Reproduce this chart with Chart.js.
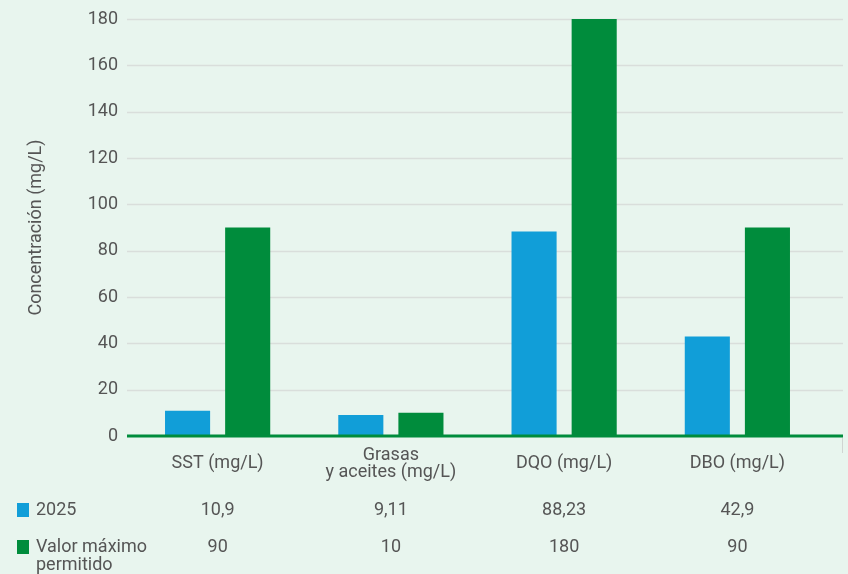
<!DOCTYPE html>
<html>
<head>
<meta charset="utf-8">
<script src="https://cdn.jsdelivr.net/npm/chart.js@4.4.1/dist/chart.umd.min.js"></script>
<style>
  html, body { margin: 0; padding: 0; background: #e8f5ee; }
  #wrap { width: 848px; height: 574px; }
</style>
</head>
<body>
<div id="wrap"><canvas id="chart" width="848" height="574"></canvas></div>
<script>
const categories = ['SST (mg/L)', ['Grasas', 'y aceites (mg/L)'], 'DQO (mg/L)', 'DBO (mg/L)']
const values2025 = [10.9, 9.11, 88.23, 42.9]
const valuesMax = [90, 10, 180, 90]
const labels2025 = ['10,9', '9,11', '88,23', '42,9']
const labelsMax = ['90', '10', '180', '90']

const BLUE = '#119ed8'
const GREEN = '#008c3c'
const TEXT = '#555555'
const FONT = 'Roboto, "Noto Sans", sans-serif'

// grid lines and axis line reach a bit past the category area
const gridPlugin = {
  id: 'grid',
  beforeDatasetsDraw(chart) {
    const ctx = chart.ctx
    const y = chart.scales.y
    ctx.save()
    ctx.strokeStyle = '#d9dedb'
    ctx.lineWidth = 1.5
    y.ticks.forEach(t => {
      if (t.value === 0) return
      const py = Math.round(y.getPixelForValue(t.value)) + 0.5
      ctx.beginPath()
      ctx.moveTo(127, py)
      ctx.lineTo(843, py)
      ctx.stroke()
    })
    ctx.restore()
  },
  afterDatasetsDraw(chart) {
    const ctx = chart.ctx
    const py = chart.scales.y.getPixelForValue(0)
    ctx.save()
    ctx.strokeStyle = GREEN
    ctx.lineWidth = 3
    ctx.beginPath()
    ctx.moveTo(127, py)
    ctx.lineTo(843, py)
    ctx.stroke()
    ctx.strokeStyle = '#d0d5d2'
    ctx.lineWidth = 1
    ctx.beginPath()
    ctx.moveTo(842.5, py + 2)
    ctx.lineTo(842.5, py + 17)
    ctx.stroke()
    ctx.restore()
  }
}

// data table under the chart, values placed on the x scale
const tablePlugin = {
  id: 'table',
  afterDraw(chart) {
    const ctx = chart.ctx
    const x = chart.scales.x
    ctx.save()
    ctx.font = '18px ' + FONT
    ctx.textBaseline = 'middle'

    ctx.fillStyle = BLUE
    ctx.fillRect(17, 503, 12, 14)
    ctx.fillStyle = GREEN
    ctx.fillRect(17, 540, 12, 14)

    ctx.fillStyle = TEXT
    ctx.textAlign = 'left'
    ctx.fillText('2025', 36, 510)
    ctx.fillText('Valor máximo', 36, 547)
    ctx.fillText('permitido', 36, 565)

    ctx.textAlign = 'center'
    labels2025.forEach((s, i) => ctx.fillText(s, x.getPixelForValue(i), 510))
    labelsMax.forEach((s, i) => ctx.fillText(s, x.getPixelForValue(i), 547))
    ctx.restore()
  }
}

new Chart(document.getElementById('chart'), {
  type: 'bar',
  data: {
    labels: categories,
    datasets: [
      { label: '2025', data: values2025, backgroundColor: BLUE },
      { label: 'Valor máximo permitido', data: valuesMax, backgroundColor: GREEN }
    ]
  },
  options: {
    responsive: false,
    animation: false,
    devicePixelRatio: 1,
    layout: { padding: { top: 19, right: 24, left: 0, bottom: 0 } },
    datasets: { bar: { categoryPercentage: 0.694, barPercentage: 0.75 } },
    plugins: {
      legend: { display: false },
      tooltip: { enabled: false }
    },
    scales: {
      x: {
        grid: { display: false, drawTicks: false },
        border: { display: false },
        ticks: {
          color: TEXT,
          font: { family: FONT, size: 18, lineHeight: 0.95 },
          padding: 19,
          crossAlign: 'center',
          maxRotation: 0,
          autoSkip: false
        },
        afterFit: s => { s.height = 138 }
      },
      y: {
        min: 0,
        max: 180,
        grid: { display: false, drawTicks: false },
        border: { display: false },
        ticks: {
          stepSize: 20,
          color: TEXT,
          font: { family: FONT, size: 18 },
          padding: 13
        },
        title: {
          display: true,
          text: 'Concentración (mg/L)',
          color: TEXT,
          font: { family: FONT, size: 18 },
          padding: { top: 26, bottom: 0 }
        },
        afterFit: s => {
          s.width = 131
          s.paddingTop = 0
          s.paddingBottom = 0
        }
      }
    }
  },
  plugins: [gridPlugin, tablePlugin]
})
</script>
</body>
</html>
